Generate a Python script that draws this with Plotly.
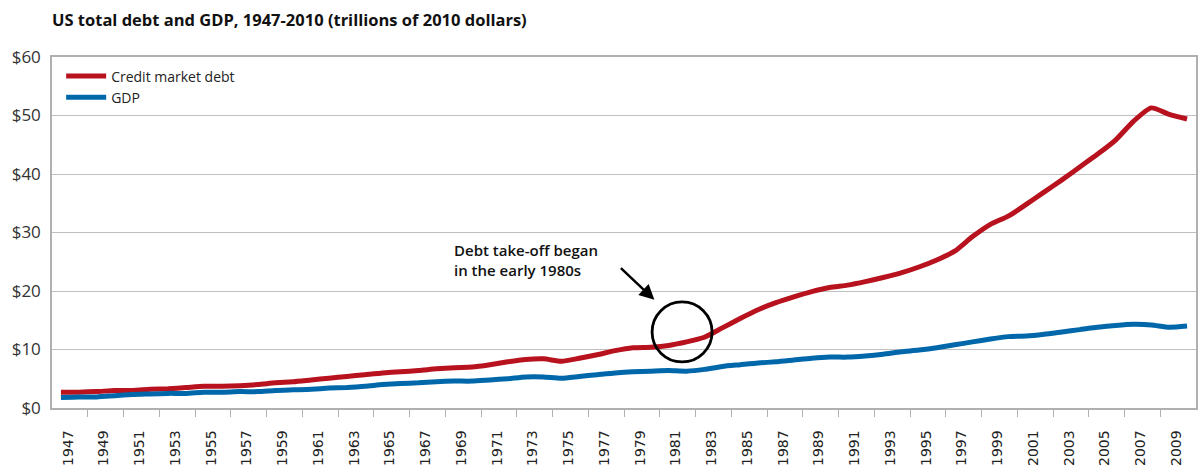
import plotly.graph_objects as go

years = list(range(1947, 2011))
debt = [2.7, 2.7, 2.8, 3.0, 3.0, 3.2, 3.3, 3.5, 3.7, 3.7,
        3.8, 4.0, 4.3, 4.5, 4.8, 5.1, 5.4, 5.7, 6.0, 6.2,
        6.4, 6.7, 6.9, 7.0, 7.4, 7.9, 8.3, 8.4, 8.0, 8.5,
        9.1, 9.8, 10.3, 10.4, 10.7, 11.3, 12.1, 13.7, 15.3, 16.8,
        18.0, 19.0, 19.9, 20.6, 21.0, 21.6, 22.3, 23.1, 24.1, 25.3,
        26.8, 29.3, 31.4, 32.8, 34.8, 36.9, 39.0, 41.2, 43.4, 45.8,
        49.0, 51.3, 50.2, 49.4]
gdp = [1.8, 1.9, 1.9, 2.1, 2.3, 2.4, 2.5, 2.5, 2.7, 2.7,
       2.8, 2.8, 3.0, 3.1, 3.2, 3.4, 3.5, 3.7, 4.0, 4.2,
       4.3, 4.5, 4.6, 4.6, 4.8, 5.0, 5.3, 5.3, 5.1, 5.4,
       5.7, 6.0, 6.2, 6.3, 6.4, 6.3, 6.6, 7.1, 7.4, 7.7,
       7.9, 8.2, 8.5, 8.7, 8.7, 8.9, 9.2, 9.6, 9.9, 10.3,
       10.8, 11.3, 11.8, 12.2, 12.3, 12.6, 13.0, 13.4, 13.8, 14.1,
       14.3, 14.2, 13.8, 14.0]
tick_years = list(range(1947, 2011, 2))
title = "US total debt and GDP, 1947-2010 (trillions of 2010 dollars)"
note = "Debt take-off began<br>in the early 1980s"

RED = "#B7121E"
BLUE = "#0068AA"

fig = go.Figure()
fig.add_trace(go.Scatter(x=years, y=debt, name="Credit market debt", mode="lines",
                         line=dict(color=RED, width=5, shape="spline", smoothing=0.6)))
fig.add_trace(go.Scatter(x=years, y=gdp, name="GDP", mode="lines",
                         line=dict(color=BLUE, width=5, shape="spline", smoothing=0.6)))

fig.update_layout(
    width=1198, height=470,
    margin=dict(l=52, r=2, t=57, b=62),
    paper_bgcolor="white", plot_bgcolor="white",
    title=dict(text=title, x=0, xref="paper", xanchor="left", y=0.957, yanchor="middle",
               font=dict(family="Open Sans", size=16.5, color="#111111", weight=700)),
    legend=dict(x=0.008, y=0.99, xanchor="left", yanchor="top",
                font=dict(family="Open Sans", size=14, color="#222222"),
                bgcolor="rgba(0,0,0,0)", tracegroupgap=0, itemwidth=40),
    showlegend=True,
)
fig.update_xaxes(range=[1946.5, 2010.5], tickmode="array", tickvals=[y + 0.4 for y in tick_years],
                 ticktext=[str(y) for y in tick_years], tickangle=-90, ticks="",
                 ticklabelstandoff=15, automargin=False,
                 tickfont=dict(family="DejaVu Sans", size=14, color="#222222"),
                 showgrid=False, showline=True, linecolor="#b0b0b0", linewidth=1.5, mirror=True,
                 zeroline=False,
                 minor=dict(tickmode="array", tickvals=[y + 1.5 for y in tick_years[:-1]],
                            ticks="outside", ticklen=7, tickcolor="#b0b0b0", tickwidth=1, showgrid=False))
fig.update_yaxes(range=[0, 60], dtick=10, tickprefix="$", ticks="",
                 ticklabelstandoff=6, automargin=False,
                 tickfont=dict(family="Open Sans", size=17, color="#333333"),
                 showgrid=True, gridcolor="#c0c0c0", gridwidth=1,
                 showline=True, linecolor="#b0b0b0", linewidth=1.5, mirror=True, zeroline=False)

fig.add_annotation(x=1968.9, y=25.3, xref="x", yref="y", text=note, showarrow=False,
                   xanchor="left", yanchor="middle", align="left",
                   font=dict(family="Open Sans", size=15, color="#111111", weight=600))
fig.add_annotation(x=1980.2, y=18.5, xref="x", yref="y", ax=-35, ay=-33, text="",
                   showarrow=True, arrowhead=2, arrowsize=1.2, arrowwidth=2.5, arrowcolor="black")
fig.add_shape(type="circle", xref="x", yref="y", xsizemode="pixel", ysizemode="pixel",
              xanchor=1981.75, yanchor=13.0, x0=-30, x1=30, y0=-30, y1=30,
              line=dict(color="black", width=2.8))

fig.write_html("out.html", config={"displayModeBar": False},
               post_script="document.body.style.margin='0';document.body.style.overflow='hidden';")
